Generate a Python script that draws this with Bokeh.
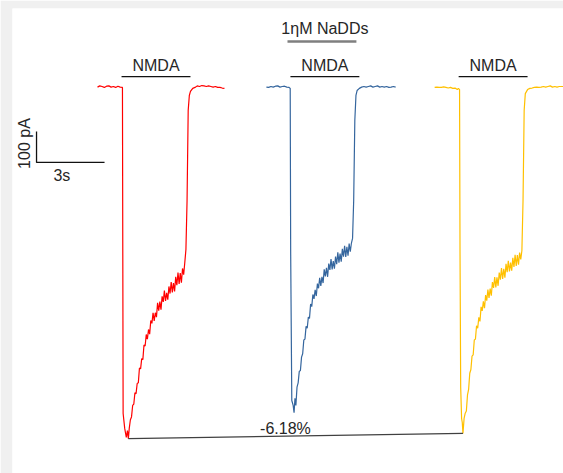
import math
from bokeh.plotting import figure
from bokeh.models import Range1d
from bokeh.core.properties import value
from bokeh.embed import file_html
from bokeh.resources import INLINE

# ---------------- data (time in s from sweep start, current in pA) ----------------
red_t = [0.0, 0.1, 0.2, 0.3, 0.4, 0.5, 0.6, 0.7, 0.8, 0.9, 1.0, 1.1,
         1.13, 1.2, 1.27, 1.32, 1.36, 1.4,
         1.45, 1.5, 1.55, 1.6, 1.65, 1.7, 1.75, 1.8, 1.85, 1.9, 1.95, 2.0,
         2.05, 2.1, 2.15, 2.2, 2.25, 2.3, 2.35, 2.4, 2.45, 2.5, 2.55, 2.6,
         2.65, 2.7, 2.75, 2.8, 2.85, 2.9, 2.95, 3.0, 3.05, 3.1, 3.15, 3.2,
         3.25, 3.3, 3.35, 3.4, 3.45, 3.5, 3.55, 3.6, 3.65, 3.7, 3.75, 3.8,
         3.85, 3.9, 3.95, 4.0, 4.05, 4.1,
         4.2, 4.3, 4.4, 4.5, 4.6, 4.7, 4.8, 4.9, 5.0, 5.1, 5.2, 5.3, 5.4, 5.5, 5.6]
red_i = [-2, 2, 0, -3, 1, 2, -2, 0, -3, 1, -2, -3,
         -1055, -1103, -1132, -1110, -1136, -1103,
         -1075, -1066, -1029, -1025, -988, -991, -958, -956, -908, -911, -878, -881,
         -834, -837, -800, -815, -784, -799, -755, -764, -730, -756, -730, -744,
         -698, -723, -694, -720, -677, -695, -658, -692, -666, -688, -645, -668,
         -631, -664, -634, -661, -614, -641, -600, -637, -602, -633, -587, -607,
         -568, -526, -368, -77, -29, -16,
         -6, -3, 2, 0, 3, 2, 0, 2, 0, -2, 0, -3, -3, -5, -6]

blue_t = [0.0, 0.1, 0.2, 0.3, 0.4, 0.5, 0.6, 0.7, 0.8, 0.9, 1.0, 1.05,
          1.07, 1.12, 1.18, 1.22, 1.26, 1.3,
          1.35, 1.4, 1.45, 1.5, 1.55, 1.6, 1.65, 1.7, 1.75, 1.8, 1.85, 1.9, 1.95, 2.0,
          2.05, 2.1, 2.15, 2.2, 2.25, 2.3, 2.35, 2.4, 2.45, 2.5, 2.55, 2.6,
          2.65, 2.7, 2.75, 2.8, 2.85, 2.9, 2.95, 3.0, 3.05, 3.1, 3.15, 3.2,
          3.25, 3.3, 3.35, 3.4, 3.45, 3.5, 3.55, 3.6, 3.65, 3.7, 3.75,
          3.8, 3.85, 3.9, 3.95, 4.0, 4.1,
          4.2, 4.3, 4.4, 4.5, 4.6, 4.7, 4.8, 4.9, 5.0, 5.1, 5.2, 5.3, 5.4, 5.5, 5.6, 5.7]
blue_i = [-2, -3, 0, -2, 1, 2, -2, 0, 1, -2, -3, -6,
          -529, -1013, -1029, -1052, -1006, -1029,
          -970, -956, -919, -916, -873, -862, -818, -815, -774, -780, -744, -748, -702, -710,
          -671, -685, -656, -676, -636, -651, -617, -643, -614, -634, -590, -613,
          -585, -614, -571, -592, -557, -590, -563, -588, -549, -573, -535, -568,
          -539, -565, -524, -549, -514, -550, -517, -546, -507, -533, -505,
          -490, -368, -110, -29, -13, -6,
          -2, 0, -2, 0, 2, -2, 0, 2, -2, 0, -2, 0, -3, -2, 0, -2]

yellow_t = [0.0, 0.1, 0.2, 0.3, 0.4, 0.5, 0.6, 0.7, 0.8, 0.9, 1.0, 1.05, 1.1,
            1.12, 1.15, 1.19, 1.22, 1.25, 1.3,
            1.35, 1.4, 1.45, 1.5, 1.55, 1.6, 1.65, 1.7, 1.75, 1.8, 1.85, 1.9, 1.95, 2.0,
            2.05, 2.1, 2.15, 2.2, 2.25, 2.3, 2.35, 2.4, 2.45, 2.5, 2.55, 2.6,
            2.65, 2.7, 2.75, 2.8, 2.85, 2.9, 2.95, 3.0, 3.05, 3.1, 3.15, 3.2,
            3.25, 3.3, 3.35, 3.4, 3.45, 3.5, 3.55, 3.6, 3.65, 3.7, 3.75, 3.8,
            3.85, 3.9, 3.95, 4.0, 4.1,
            4.2, 4.3, 4.4, 4.5, 4.6, 4.7, 4.8, 4.9, 5.0, 5.1, 5.2, 5.3, 5.4, 5.5, 5.6, 5.7]
yellow_i = [-3, -2, -3, -3, -1, -3, -5, -3, -6, -5, -10, -6, -10,
            -529, -971, -1071, -1084, -1119, -1071,
            -1054, -1047, -995, -977, -925, -913, -870, -866, -818, -815, -772, -780, -745, -758,
            -711, -724, -693, -715, -673, -691, -655, -682, -652, -675, -631, -650,
            -615, -648, -616, -643, -600, -623, -586, -621, -588, -617, -572, -599,
            -562, -597, -568, -594, -553, -582, -543, -579, -544, -575, -536, -558,
            -529, -368, -77, -23, -10,
            -6, -5, -3, -2, -3, -2, 0, -2, 0, 2, -2, 0, -2, 0, 0, 0]

sweep_labels = ["NMDA", "NMDA", "NMDA"]
nmda_on, nmda_off = 1.06, 4.1          # NMDA application window within each sweep (s)
drug_label = "1\u03b7M NaDDs"
change_label = "-6.18%"
scale_t, scale_i = 3, 100               # scale bar: 3 s, 100 pA
scale_t_label, scale_i_label = "3s", "100 pA"

# ---------------- layout ----------------
sweep_start = [3.75, 11.2, 18.62]
colors = ["#ff0000", "#35669e", "#ffc000"]
FONT = value("Liberation Sans")
FS = value("16px")
TXT = "#262626"

p = figure(width=563, height=473, output_backend="svg", toolbar_location=None,
           x_range=Range1d(0, 24.305), y_range=Range1d(-1248.5, 251.6),
           x_axis_location=None, y_axis_location=None,
           min_border_left=12, min_border_top=8, min_border_right=0, min_border_bottom=0,
           border_fill_color="#f0f0f0", background_fill_color="white",
           outline_line_color=None)
p.xgrid.visible = False
p.ygrid.visible = False

traces = [(red_t, red_i), (blue_t, blue_i), (yellow_t, yellow_i)]
for (tt, ii), s0, c in zip(traces, sweep_start, colors):
    p.line([s0 + t for t in tt], ii, line_color=c, line_width=1.2)

# NMDA bars and labels
for s0, lab in zip(sweep_start, sweep_labels):
    p.line([s0 + nmda_on, s0 + nmda_off], [32, 32], line_color="#111111", line_width=1.3)
    p.text([s0 + (nmda_on + nmda_off) / 2], [68], text=[lab], text_align="center",
           text_baseline="middle", text_font=FONT, text_font_size=FS, text_color=TXT)

# drug label with underline
p.text([13.78], [187], text=[drug_label], text_align="center", text_baseline="middle",
       text_font=FONT, text_font_size=FS, text_color=TXT)
p.line([12.13, 15.17], [145, 145], line_color="#7f7f7f", line_width=2.5)

# connector between red and yellow minima
r_min = min(range(len(red_i)), key=lambda k: red_i[k])
y_min = min(range(len(yellow_i)), key=lambda k: yellow_i[k])
p.line([sweep_start[0] + red_t[r_min], sweep_start[2] + yellow_t[y_min]],
       [red_i[r_min], yellow_i[y_min]], line_color="#404040", line_width=1.2)
p.text([12.04], [-1103], text=[change_label], text_align="center", text_baseline="middle",
       text_font=FONT, text_font_size=FS, text_color=TXT)

# scale bar
x0, y0 = 1.06, -245
p.line([x0, x0, x0 + scale_t], [y0 + scale_i, y0, y0], line_color="#111111", line_width=1.3)
p.text([x0 + scale_t / 2 - 0.38], [y0 - 42], text=[scale_t_label], text_align="center",
       text_baseline="middle", text_font=FONT, text_font_size=FS, text_color=TXT)
p.text([x0 - 0.53], [y0 + 61], text=[scale_i_label], angle=math.pi / 2, text_align="center",
       text_baseline="middle", text_font=FONT, text_font_size=FS, text_color=TXT)

open("out.html", "w").write(file_html(p, INLINE))
